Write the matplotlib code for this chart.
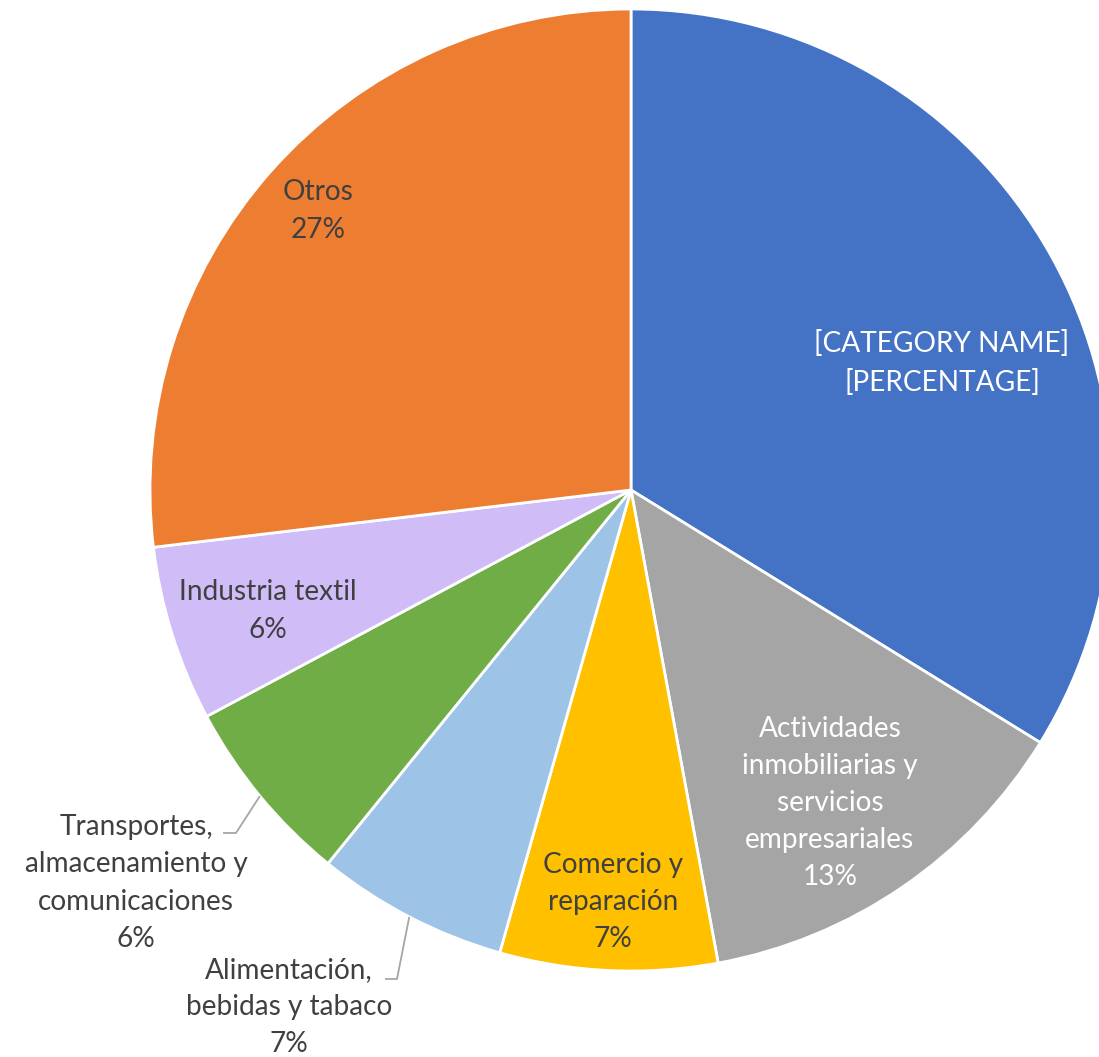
import numpy as np
import matplotlib
matplotlib.use("Agg")
import matplotlib.pyplot as plt

# slices, clockwise from 12 o'clock
categories = ["[CATEGORY NAME]", "Actividades\ninmobiliarias y\nservicios\nempresariales",
              "Comercio y\nreparación", "Alimentación,\nbebidas y tabaco",
              "Transportes,\nalmacenamiento y\ncomunicaciones", "Industria textil", "Otros"]
shares = [33.8, 13.3, 7.3, 6.45, 6.35, 5.9, 26.9]
pct_labels = ["[PERCENTAGE]", "13%", "7%", "7%", "6%", "6%", "27%"]
colors = ["#4472C4", "#A5A5A5", "#FFC000", "#9DC3E6", "#70AD47", "#D0BCF6", "#ED7D31"]

W, H = 1099, 1057
CX, CY, R = 631, 490, 481
DARK = "#404040"

plt.rcParams['font.family'] = ['Lato', 'DejaVu Sans']

fig = plt.figure(figsize=(W / 100, H / 100), dpi=100)
ax = fig.add_axes([0, 0, 1, 1])

wedges, _ = ax.pie(shares, colors=colors, startangle=90, counterclock=False,
                   center=(CX, H - CY), radius=R,
                   wedgeprops=dict(edgecolor="white", linewidth=2.0))
ax.set_xlim(0, W)
ax.set_ylim(0, H)
ax.set_aspect('auto')
ax.axis('off')

texts = [c + "\n" + p for c, p in zip(categories, pct_labels)]
# label centres in pixel space (y from top)
label_pos = [(942, 363), (830, 803), (613, 902), (289, 1007),
             (136, 883), (268, 611), (318, 211)]
label_col = ["white", "white", DARK, DARK, DARK, DARK, DARK]

for t, (x, y), c in zip(texts, label_pos, label_col):
    ax.text(x, H - y, t, ha="center", va="center", color=c,
            fontsize=20.2, linespacing=1.53)

# leader lines for outside labels
leaders = {3: (385, 397, 979), 4: (223, 236, 833)}
for i, (x0, x1, yl) in leaders.items():
    w = wedges[i]
    mid = np.deg2rad((w.theta1 + w.theta2) / 2)
    px = CX + R * np.cos(mid)
    py = (H - CY) + R * np.sin(mid)
    ax.plot([x0, x1, px], [H - yl, H - yl, py], color="#A6A6A6", lw=1.3,
            solid_capstyle="butt")

fig.savefig("out.png", dpi=100)
